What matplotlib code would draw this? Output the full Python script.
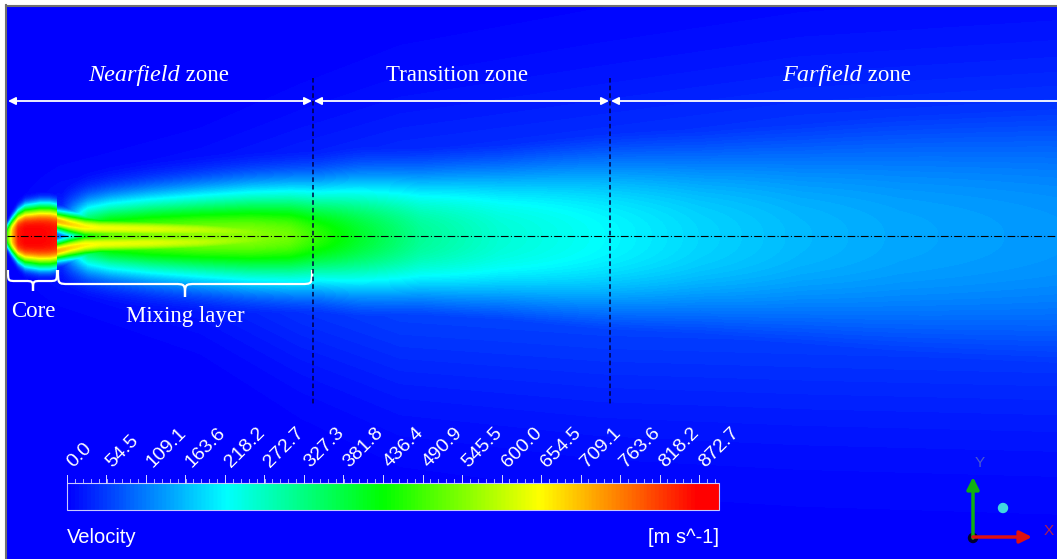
import numpy as np
import matplotlib
matplotlib.use("Agg")
import matplotlib.pyplot as plt
from matplotlib.colors import LinearSegmentedColormap
from matplotlib.path import Path
from matplotlib.patches import PathPatch, Rectangle, Circle

# velocity scale of the legend [m/s]
v_max = 872.7
tick_labels = ["0.0", "54.5", "109.1", "163.6", "218.2", "272.7", "327.3", "381.8",
               "436.4", "490.9", "545.5", "600.0", "654.5", "709.1", "763.6", "818.2",
               "872.7"]

# jet axis (domain units, y grows downward like the CFX view)
axis_y = 236.0

# main jet: centreline velocity, half width and profile exponent at stations along x
jet_x = [7, 12, 18, 25, 40, 50, 56.5, 57.5, 62, 72, 88, 110, 150, 200, 250, 290, 320,
         360, 420, 500, 600, 700, 800, 900, 1057]
jet_uc = [480, 700, 850, 872, 872, 865, 855, 110, 100, 260, 470, 530, 550, 560, 555, 530,
          470, 400, 310, 255, 220, 185, 160, 145, 132]
jet_b = [10, 16, 22, 26, 28, 28, 27, 26, 26, 26, 27, 29, 32, 35, 38, 40, 42,
         48, 54, 62, 72, 80, 90, 100, 110]
jet_p = [3.5, 3.8, 4.0, 4.0, 4.0, 4.0, 4.0, 2.0, 2.0, 2.0, 2.0, 2.0, 2.0, 2.0, 2.0, 2.0, 2.0,
         2.1, 2.3, 2.5, 2.5, 2.5, 2.5, 2.5, 2.5]

# shock-cell shear layer behind the Mach disk (annular velocity peak)
ring_x = [56.5, 57.5, 70, 85, 100, 150, 200, 250, 300, 340]
ring_u = [0, 720, 690, 665, 645, 630, 600, 560, 500, 400]
ring_r = [15, 15, 12, 9, 8, 7, 6, 4, 2, 0]
ring_w = [8, 8, 9, 10, 10, 11, 12, 13, 15, 18]

# slow entrained flow around the plume
wide_x = [7, 60, 200, 300, 400, 600, 800, 1057]
wide_u = [0, 30, 45, 60, 70, 75, 80, 85]
wide_b = [40, 45, 65, 90, 110, 125, 135, 140]
wide_dy = [0, 0, 5, 15, 20, 15, 5, 0]

x_lo, x_hi, y_lo, y_hi = 7, 1057, 7, 559

xg = np.arange(x_lo, x_hi) + 0.5
yg = np.arange(y_lo, y_hi) + 0.5
X, Y = np.meshgrid(xg, yg)
R = np.abs(Y - axis_y)
ln2 = np.log(2.0)

uc = np.interp(xg, jet_x, jet_uc)
b = np.interp(xg, jet_x, jet_b)
p = np.interp(xg, jet_x, jet_p)
u_jet = uc * np.exp(-ln2 * (R / b) ** p)

ua = np.interp(xg, ring_x, ring_u, left=0, right=0)
ra = np.interp(xg, ring_x, ring_r)
wa = np.interp(xg, ring_x, ring_w)
u_ring = ua * np.exp(-ln2 * ((R - ra) / wa) ** 2)

ub = np.interp(xg, wide_x, wide_u)
bb = np.interp(xg, wide_x, wide_b)
dy = np.interp(xg, wide_x, wide_dy)
u_wide = ub * np.exp(-ln2 * ((Y - axis_y - dy) / bb) ** 2)

U = np.maximum(np.maximum(u_jet, u_ring), u_wide)

cmap = LinearSegmentedColormap.from_list(
    "cfx", [(0.0, (0, 0, 1)), (0.25, (0, 1, 1)), (0.5, (0, 1, 0)),
            (0.75, (1, 1, 0)), (1.0, (1, 0, 0))], N=160)

fig = plt.figure(figsize=(10.57, 5.59), dpi=100, facecolor="white")
ax = fig.add_axes([0, 0, 1, 1])
ax.set_xlim(0, 1057)
ax.set_ylim(559, 0)
ax.axis("off")

ax.imshow(U, cmap=cmap, vmin=0, vmax=v_max, extent=(x_lo, x_hi, y_hi, y_lo),
          origin="upper", interpolation="bilinear", aspect="auto")
ax.plot([6, 6], [5, 559], color="#707070", lw=1.5)
ax.plot([6, 1057], [5.5, 5.5], color="#707070", lw=1.5)

# jet axis
ax.plot([x_lo, x_hi], [axis_y, axis_y], color="black", lw=0.8, dashes=(7, 2, 1, 2))

# zone boundaries
zone_x = [313, 610]
for zx in zone_x:
    ax.plot([zx, zx], [78, 405], color="#000040", lw=1.1, dashes=(3, 2))

serif = "Liberation Serif"
head = dict(color="white", lw=1.3, mutation_scale=11, shrinkA=0, shrinkB=0)
ax.annotate("", xy=(8, 101), xytext=(312, 101), arrowprops=dict(arrowstyle="<|-|>", **head))
ax.annotate("", xy=(314, 101), xytext=(609, 101), arrowprops=dict(arrowstyle="<|-|>", **head))
ax.annotate("", xy=(611, 101), xytext=(1060, 101), arrowprops=dict(arrowstyle="-|>", **head))

fs = 16.5
ax.text(180, 81, "Nearfield", color="white", fontsize=17.5, family=serif, style="italic",
        ha="right", va="baseline")
ax.text(180, 81, " zone", color="white", fontsize=fs, family=serif, ha="left", va="baseline")
ax.text(457, 81, "Transition zone", color="white", fontsize=fs, family=serif,
        ha="center", va="baseline")
ax.text(862, 81, "Farfield", color="white", fontsize=17.5, family=serif, style="italic",
        ha="right", va="baseline")
ax.text(862, 81, " zone", color="white", fontsize=fs, family=serif, ha="left", va="baseline")


def brace(x0, x1, xm, y0, ymid, ytip, r):
    verts = [(x0, y0), (x0, ymid), (x0, ymid), (x0 + r, ymid),
             (xm - r, ymid), (xm, ymid), (xm, ymid), (xm, ytip),
             (xm, ymid), (xm, ymid), (xm + r, ymid),
             (x1 - r, ymid), (x1, ymid), (x1, ymid), (x1, y0)]
    codes = [Path.MOVETO, Path.CURVE4, Path.CURVE4, Path.CURVE4,
             Path.LINETO, Path.CURVE4, Path.CURVE4, Path.CURVE4,
             Path.CURVE4, Path.CURVE4, Path.CURVE4,
             Path.LINETO, Path.CURVE4, Path.CURVE4, Path.CURVE4]
    ax.add_patch(PathPatch(Path(verts, codes), fill=False, edgecolor="white", lw=1.6))


brace(8, 57, 33, 270, 281, 291, 8)
brace(58, 312, 185, 270, 284, 297, 11)
ax.text(33, 317, "Core", color="white", fontsize=fs, family=serif, ha="center", va="baseline")
ax.text(185, 322, "Mixing layer", color="white", fontsize=fs, family=serif,
        ha="center", va="baseline")

# legend bar: 0..v_max spans bar_x0..bar_xmax, the bar runs on a little past the top value
bar_x0, bar_xmax, bar_x1, bar_top, bar_bot = 67, 699, 719, 483, 510
px_per_v = (bar_xmax - bar_x0) / v_max
grad = np.linspace(0, (bar_x1 - bar_x0) / px_per_v, 650)[None, :]
ax.imshow(grad, cmap=cmap, vmin=0, vmax=v_max, extent=(bar_x0, bar_x1, bar_bot, bar_top),
          aspect="auto", interpolation="bilinear")
ax.add_patch(Rectangle((bar_x0, bar_top), bar_x1 - bar_x0, bar_bot - bar_top,
                       fill=False, edgecolor="#c8c8ff", lw=0.8))
tick_vals = np.array([float(t) for t in tick_labels])
tick_pos = bar_x0 + px_per_v * tick_vals
minor = np.arange(bar_x0, bar_x1 + 0.1, (bar_xmax - bar_x0) / 80)
for mx in minor:
    ax.plot([mx, mx], [478.5, bar_top], color="#c8c8ff", lw=0.6)
for tx, lab in zip(tick_pos, tick_labels):
    ax.plot([tx, tx], [475, bar_top], color="#d8d8ff", lw=0.7)
    ax.text(tx + 6, 468, lab, color="white", fontsize=14, family="Liberation Sans",
            rotation=45, rotation_mode="anchor", ha="left", va="baseline")
ax.text(bar_x0, 543, "Velocity", color="white", fontsize=14.5, family="Liberation Sans",
        ha="left", va="baseline")
ax.text(bar_x1, 543, "[m s^-1]", color="white", fontsize=14.5, family="Liberation Sans",
        ha="right", va="baseline")

# view triad
ax.annotate("", xy=(973, 477), xytext=(973, 538),
            arrowprops=dict(arrowstyle="-|>", color="#10b010", lw=2.5, mutation_scale=18,
                            shrinkA=0, shrinkB=0))
ax.annotate("", xy=(1032, 537), xytext=(973, 537),
            arrowprops=dict(arrowstyle="-|>", color="#e01010", lw=2.5, mutation_scale=18,
                            shrinkA=0, shrinkB=0))
ax.add_patch(Circle((973, 538), 4.5, color="#000030"))
ax.add_patch(Circle((1003, 508), 4.5, color="#40d8e0"))
ax.text(980, 467, "Y", color="#4a5ad0", fontsize=11, family="Liberation Sans",
        ha="center", va="baseline")
ax.text(1049, 535, "X", color="#b02050", fontsize=11, family="Liberation Sans",
        ha="center", va="baseline")

fig.savefig("out.png", dpi=100, facecolor="white")
